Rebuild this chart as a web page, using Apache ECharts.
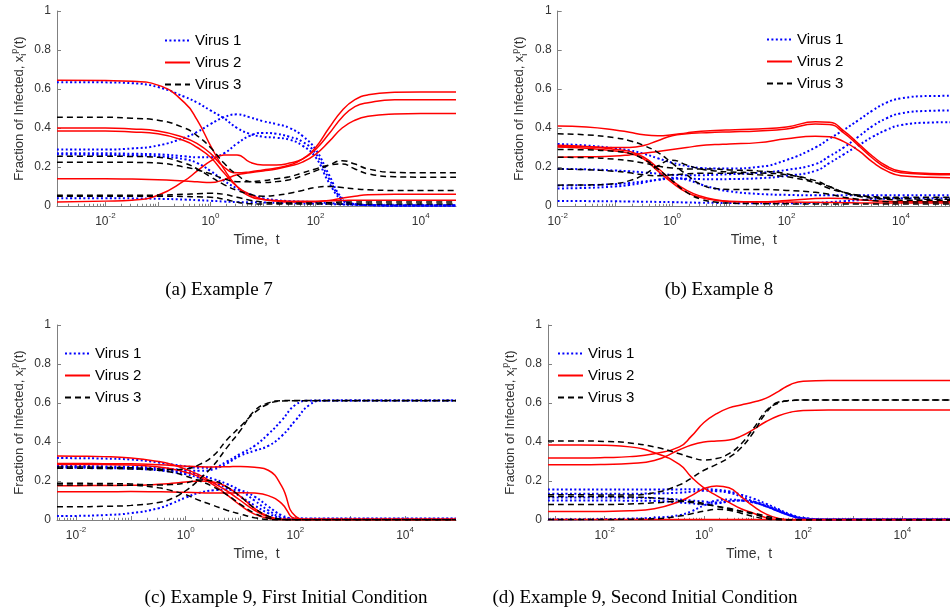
<!DOCTYPE html>
<html><head><meta charset="utf-8">
<script src="https://cdn.jsdelivr.net/npm/echarts@6/dist/echarts.min.js"></script>
<style>html,body{margin:0;padding:0;background:#fff}#c{width:950px;height:614px}</style>
</head><body><div id="c"></div>
<script>
// ---------- data ----------
const LEGEND_NAMES = ['Virus 1', 'Virus 2', 'Virus 3'];
const CAPTIONS = ['(a) Example 7', '(b) Example 8', '(c) Example 9, First Initial Condition', '(d) Example 9, Second Initial Condition'];
const X_LABEL_VALUES = [0.01, 1, 100, 10000];

// time samples (log-spaced readings)
const T_A = [0.0012, 0.01, 0.032, 0.1, 0.32, 0.56, 1, 1.8, 3.2, 5.6, 10, 18, 32, 56, 100, 180, 320, 560, 1000, 3200, 10000, 47000];
const T_B = [0.01, 0.032, 0.1, 0.18, 0.32, 0.56, 1, 1.8, 3.2, 5.6, 10, 32, 100, 320, 560, 1000, 1800, 3200, 5600, 10000, 32000, 72000];
const T_C = [0.0045, 0.01, 0.032, 0.1, 0.32, 0.56, 1, 1.8, 3.2, 5.6, 10, 18, 32, 56, 100, 180, 320, 1000, 10000, 85000];
const T_D = [0.00072, 0.0032, 0.01, 0.032, 0.1, 0.32, 0.56, 1, 1.8, 3.2, 5.6, 10, 18, 32, 56, 100, 320, 1000, 10000, 91000];

// (a) Example 7
const A_VIRUS1 = [
 [0.635,0.634,0.630,0.610,0.560,0.530,0.490,0.450,0.400,0.370,0.355,0.350,0.340,0.310,0.250,0.120,0.030,0.010,0.005,0.003,0.003,0.003],
 [0.290,0.290,0.295,0.310,0.350,0.380,0.420,0.455,0.470,0.455,0.435,0.420,0.400,0.360,0.290,0.160,0.040,0.010,0.005,0.003,0.003,0.003],
 [0.270,0.270,0.268,0.265,0.255,0.250,0.250,0.270,0.320,0.360,0.375,0.370,0.355,0.330,0.270,0.140,0.035,0.010,0.005,0.003,0.003,0.003],
 [0.265,0.262,0.260,0.255,0.240,0.220,0.180,0.130,0.090,0.060,0.040,0.030,0.025,0.022,0.020,0.015,0.010,0.007,0.005,0.003,0.003,0.003],
 [0.040,0.040,0.039,0.037,0.033,0.030,0.027,0.023,0.020,0.019,0.018,0.016,0.015,0.013,0.012,0.010,0.008,0.006,0.004,0.003,0.003,0.003]
];
const A_VIRUS2 = [
 [0.645,0.643,0.640,0.620,0.530,0.440,0.310,0.190,0.100,0.050,0.033,0.028,0.025,0.025,0.025,0.027,0.028,0.030,0.030,0.030,0.030,0.030],
 [0.400,0.400,0.395,0.385,0.350,0.320,0.270,0.200,0.170,0.175,0.185,0.195,0.210,0.240,0.300,0.400,0.490,0.545,0.570,0.583,0.585,0.585],
 [0.385,0.385,0.380,0.370,0.335,0.300,0.250,0.170,0.100,0.060,0.035,0.025,0.020,0.020,0.022,0.028,0.040,0.050,0.058,0.060,0.060,0.060],
 [0.140,0.140,0.138,0.135,0.128,0.124,0.120,0.135,0.160,0.170,0.180,0.190,0.205,0.225,0.265,0.330,0.400,0.440,0.460,0.472,0.475,0.475],
 [0.020,0.025,0.030,0.055,0.130,0.180,0.230,0.262,0.262,0.225,0.210,0.210,0.220,0.240,0.290,0.370,0.455,0.510,0.530,0.545,0.545,0.545]
];
const A_VIRUS3 = [
 [0.455,0.455,0.450,0.440,0.400,0.360,0.300,0.220,0.160,0.125,0.120,0.125,0.135,0.155,0.180,0.210,0.232,0.215,0.190,0.172,0.170,0.170],
 [0.255,0.255,0.254,0.250,0.220,0.190,0.150,0.110,0.080,0.060,0.050,0.055,0.065,0.080,0.095,0.100,0.095,0.088,0.083,0.080,0.080,0.080],
 [0.225,0.225,0.224,0.220,0.200,0.185,0.165,0.140,0.125,0.125,0.130,0.140,0.150,0.170,0.190,0.210,0.215,0.190,0.165,0.150,0.148,0.148],
 [0.055,0.055,0.055,0.056,0.060,0.063,0.065,0.060,0.045,0.030,0.020,0.016,0.015,0.015,0.015,0.017,0.020,0.020,0.020,0.020,0.020,0.020],
 [0.050,0.050,0.050,0.050,0.049,0.047,0.045,0.035,0.020,0.012,0.010,0.010,0.010,0.010,0.010,0.010,0.010,0.010,0.010,0.010,0.010,0.010]
];

// (b) Example 8
const B_VIRUS1 = [
 [0.318,0.310,0.296,0.285,0.268,0.245,0.222,0.205,0.195,0.192,0.192,0.200,0.236,0.300,0.345,0.390,0.440,0.490,0.530,0.552,0.564,0.565],
 [0.190,0.188,0.182,0.178,0.172,0.166,0.160,0.158,0.158,0.160,0.163,0.170,0.185,0.215,0.255,0.300,0.355,0.410,0.450,0.475,0.488,0.490],
 [0.105,0.107,0.112,0.118,0.126,0.134,0.140,0.140,0.138,0.137,0.138,0.142,0.155,0.180,0.220,0.265,0.310,0.355,0.390,0.415,0.428,0.430],
 [0.090,0.093,0.100,0.108,0.120,0.135,0.145,0.135,0.110,0.090,0.075,0.062,0.057,0.055,0.055,0.055,0.055,0.055,0.055,0.055,0.055,0.055],
 [0.026,0.025,0.024,0.023,0.022,0.021,0.020,0.018,0.017,0.016,0.015,0.014,0.014,0.016,0.020,0.025,0.030,0.035,0.038,0.040,0.040,0.040]
];
const B_VIRUS2 = [
 [0.410,0.405,0.390,0.378,0.365,0.360,0.365,0.375,0.383,0.387,0.390,0.395,0.405,0.432,0.430,0.385,0.320,0.255,0.205,0.178,0.167,0.166],
 [0.305,0.304,0.300,0.300,0.310,0.335,0.360,0.370,0.375,0.378,0.380,0.385,0.395,0.420,0.418,0.375,0.310,0.245,0.195,0.170,0.162,0.160],
 [0.312,0.305,0.290,0.280,0.250,0.195,0.130,0.080,0.050,0.033,0.025,0.022,0.028,0.038,0.040,0.038,0.032,0.027,0.024,0.022,0.022,0.022],
 [0.302,0.296,0.282,0.270,0.240,0.180,0.120,0.070,0.043,0.030,0.022,0.020,0.020,0.019,0.018,0.017,0.016,0.015,0.015,0.015,0.015,0.015],
 [0.250,0.252,0.256,0.262,0.270,0.280,0.290,0.300,0.310,0.315,0.318,0.325,0.345,0.358,0.355,0.330,0.285,0.225,0.180,0.155,0.147,0.145]
];
const B_VIRUS3 = [
 [0.370,0.365,0.350,0.335,0.310,0.275,0.220,0.160,0.110,0.090,0.085,0.085,0.080,0.070,0.060,0.045,0.035,0.028,0.022,0.020,0.020,0.020],
 [0.290,0.288,0.280,0.270,0.240,0.190,0.130,0.070,0.035,0.020,0.015,0.012,0.011,0.010,0.010,0.010,0.010,0.010,0.010,0.010,0.010,0.010],
 [0.250,0.248,0.240,0.232,0.220,0.205,0.195,0.190,0.190,0.190,0.185,0.180,0.165,0.120,0.090,0.070,0.055,0.048,0.045,0.045,0.045,0.045],
 [0.190,0.186,0.178,0.170,0.160,0.155,0.160,0.165,0.168,0.168,0.168,0.160,0.150,0.120,0.100,0.070,0.055,0.045,0.040,0.038,0.035,0.035],
 [0.107,0.108,0.115,0.130,0.160,0.205,0.235,0.210,0.190,0.180,0.175,0.170,0.160,0.130,0.100,0.070,0.050,0.040,0.035,0.030,0.030,0.030]
];

// (c) Example 9, first initial condition
const C_VIRUS1 = [
 [0.318,0.317,0.315,0.310,0.295,0.285,0.275,0.268,0.270,0.300,0.340,0.380,0.440,0.510,0.590,0.612,0.613,0.613,0.613,0.613],
 [0.277,0.277,0.275,0.273,0.268,0.262,0.255,0.252,0.260,0.290,0.330,0.355,0.380,0.430,0.510,0.590,0.612,0.613,0.613,0.613],
 [0.272,0.272,0.270,0.268,0.260,0.253,0.245,0.230,0.210,0.185,0.150,0.100,0.050,0.015,0.007,0.007,0.007,0.007,0.007,0.007],
 [0.020,0.021,0.025,0.035,0.060,0.085,0.115,0.140,0.152,0.155,0.150,0.120,0.070,0.025,0.008,0.007,0.007,0.007,0.007,0.007],
 [0.268,0.268,0.266,0.263,0.255,0.246,0.235,0.215,0.190,0.165,0.120,0.075,0.035,0.010,0.007,0.007,0.007,0.007,0.007,0.007]
];
const C_VIRUS2 = [
 [0.328,0.327,0.325,0.318,0.300,0.285,0.260,0.230,0.190,0.150,0.100,0.050,0.015,0.003,0.002,0.002,0.002,0.002,0.002,0.002],
 [0.290,0.290,0.289,0.288,0.283,0.280,0.276,0.273,0.272,0.273,0.275,0.270,0.255,0.175,0.020,0.002,0.002,0.002,0.002,0.002],
 [0.285,0.285,0.284,0.282,0.272,0.262,0.245,0.220,0.180,0.130,0.075,0.030,0.008,0.002,0.002,0.002,0.002,0.002,0.002,0.002],
 [0.176,0.176,0.177,0.178,0.183,0.188,0.195,0.200,0.195,0.170,0.120,0.060,0.020,0.004,0.002,0.002,0.002,0.002,0.002,0.002],
 [0.145,0.145,0.145,0.146,0.145,0.144,0.142,0.140,0.138,0.138,0.140,0.138,0.125,0.085,0.008,0.002,0.002,0.002,0.002,0.002]
];
const C_VIRUS3 = [
 [0.272,0.272,0.270,0.268,0.262,0.258,0.262,0.285,0.330,0.410,0.480,0.550,0.595,0.610,0.612,0.612,0.612,0.612,0.612,0.612],
 [0.265,0.265,0.264,0.262,0.255,0.245,0.225,0.200,0.170,0.130,0.080,0.035,0.010,0.002,0.001,0.001,0.001,0.001,0.001,0.001],
 [0.188,0.188,0.187,0.185,0.180,0.182,0.190,0.205,0.200,0.170,0.120,0.060,0.020,0.005,0.001,0.001,0.001,0.001,0.001,0.001],
 [0.180,0.180,0.179,0.178,0.165,0.150,0.130,0.100,0.075,0.050,0.030,0.012,0.003,0.001,0.001,0.001,0.001,0.001,0.001,0.001],
 [0.068,0.068,0.070,0.075,0.090,0.110,0.150,0.210,0.280,0.370,0.460,0.560,0.600,0.612,0.613,0.613,0.613,0.613,0.613,0.613]
];

// (d) Example 9, second initial condition
const D_VIRUS1 = [
 [0.157,0.157,0.157,0.157,0.157,0.157,0.158,0.158,0.155,0.147,0.130,0.110,0.083,0.055,0.028,0.012,0.003,0.003,0.003,0.003],
 [0.135,0.135,0.135,0.135,0.136,0.140,0.145,0.150,0.148,0.140,0.120,0.095,0.070,0.045,0.022,0.008,0.003,0.003,0.003,0.003],
 [0.115,0.115,0.115,0.114,0.112,0.105,0.100,0.095,0.090,0.095,0.100,0.090,0.070,0.045,0.022,0.008,0.003,0.003,0.003,0.003],
 [0.100,0.100,0.100,0.099,0.098,0.090,0.085,0.080,0.085,0.095,0.100,0.095,0.075,0.050,0.025,0.008,0.003,0.003,0.003,0.003],
 [0.004,0.004,0.005,0.007,0.012,0.025,0.045,0.075,0.100,0.105,0.100,0.090,0.070,0.045,0.022,0.008,0.003,0.003,0.003,0.003]
];
const D_VIRUS2 = [
 [0.385,0.385,0.383,0.375,0.345,0.285,0.220,0.165,0.125,0.090,0.058,0.035,0.012,0.002,0.001,0.001,0.001,0.001,0.001,0.001],
 [0.318,0.318,0.320,0.325,0.340,0.375,0.430,0.500,0.545,0.575,0.590,0.605,0.625,0.660,0.695,0.712,0.715,0.715,0.715,0.715],
 [0.283,0.283,0.285,0.290,0.305,0.360,0.385,0.400,0.405,0.410,0.430,0.465,0.505,0.535,0.553,0.562,0.564,0.564,0.564,0.564],
 [0.043,0.043,0.044,0.047,0.058,0.095,0.125,0.160,0.175,0.165,0.120,0.070,0.030,0.008,0.001,0.001,0.001,0.001,0.001,0.001],
 [0.002,0.002,0.002,0.002,0.002,0.002,0.002,0.002,0.002,0.002,0.002,0.002,0.002,0.002,0.002,0.002,0.002,0.002,0.002,0.002]
];
const D_VIRUS3 = [
 [0.405,0.405,0.403,0.395,0.375,0.340,0.320,0.308,0.315,0.340,0.390,0.470,0.560,0.600,0.612,0.615,0.615,0.615,0.615,0.615],
 [0.130,0.130,0.128,0.128,0.140,0.180,0.215,0.255,0.285,0.320,0.370,0.450,0.550,0.605,0.613,0.615,0.615,0.615,0.615,0.615],
 [0.120,0.120,0.120,0.118,0.113,0.100,0.090,0.080,0.070,0.060,0.045,0.030,0.012,0.003,0.001,0.001,0.001,0.001,0.001,0.001],
 [0.080,0.080,0.080,0.082,0.088,0.095,0.095,0.085,0.070,0.055,0.045,0.035,0.020,0.006,0.001,0.001,0.001,0.001,0.001,0.001],
 [0.003,0.003,0.003,0.004,0.006,0.020,0.032,0.045,0.055,0.050,0.035,0.018,0.006,0.001,0.001,0.001,0.001,0.001,0.001,0.001]
];

// ---------- layout / style ----------
const PANELS = [
  {t: T_A, v: [A_VIRUS1, A_VIRUS2, A_VIRUS3], xmin: 0.0012, xmax: 47000, grid: {left: 57, top: 11, width: 399, height: 195}, legend: {left: 164, top: 33}, cap: [219, 290]},
  {t: T_B, v: [B_VIRUS1, B_VIRUS2, B_VIRUS3], xmin: 0.01, xmax: 72000, grid: {left: 557.7, top: 11, width: 392.3, height: 195}, legend: {left: 766, top: 32}, cap: [719, 290]},
  {t: T_C, v: [C_VIRUS1, C_VIRUS2, C_VIRUS3], xmin: 0.0045, xmax: 85000, grid: {left: 57, top: 325, width: 399, height: 195}, legend: {left: 64, top: 346}, cap: [286, 598]},
  {t: T_D, v: [D_VIRUS1, D_VIRUS2, D_VIRUS3], xmin: 0.00072, xmax: 91000, grid: {left: 548, top: 325, width: 402, height: 195}, legend: {left: 557, top: 346}, cap: [645, 598]}
];
const LINE_STYLES = [
  {color: '#0000ff', type: [2, 2.4], width: 2},
  {color: '#ff0000', type: 'solid', width: 1.5},
  {color: '#000000', type: [6, 4], width: 1.5}
];
const AXIS_COLOR = '#808080';
const LABEL_COLOR = '#333333';
const FONT = '"Liberation Sans", Arial, sans-serif';

const majorTicks = [], minorTicks = [];
for (let k = -4; k <= 5; k++) {
  majorTicks.push(Math.pow(10, k));
  for (let m = 2; m <= 9; m++) minorTicks.push(m * Math.pow(10, k));
}

const grids = [], xAxes = [], yAxes = [], series = [], legends = [], graphics = [];
PANELS.forEach((p, gi) => {
  grids.push(Object.assign({}, p.grid, {containLabel: false}));
  xAxes.push({
    type: 'log', logBase: 10, gridIndex: gi, min: p.xmin, max: p.xmax, position: 'bottom',
    axisLine: {show: true, onZero: false, lineStyle: {color: AXIS_COLOR, width: 1}},
    axisTick: {show: true, inside: true, length: 4, customValues: majorTicks, lineStyle: {color: AXIS_COLOR}},
    axisLabel: {
      show: true, customValues: X_LABEL_VALUES, margin: 6, color: LABEL_COLOR, fontFamily: FONT,
      formatter: v => '{b|10}{s|' + Math.round(Math.log10(v)) + '}',
      rich: {
        b: {fontSize: 12, fontFamily: FONT, color: LABEL_COLOR, lineHeight: 16, verticalAlign: 'bottom'},
        s: {fontSize: 8, fontFamily: FONT, color: LABEL_COLOR, lineHeight: 9, verticalAlign: 'top'}
      }
    },
    splitLine: {show: false}, minorTick: {show: false},
    name: 'Time,  t', nameLocation: 'middle', nameGap: 27,
    nameTextStyle: {fontSize: 14, fontFamily: FONT, color: LABEL_COLOR}
  });
  xAxes.push({
    type: 'log', logBase: 10, gridIndex: gi, min: p.xmin, max: p.xmax, position: 'bottom', offset: 0,
    axisLine: {show: false, onZero: false},
    axisTick: {show: true, inside: true, length: 2.2, customValues: minorTicks, lineStyle: {color: AXIS_COLOR}},
    axisLabel: {show: false}, splitLine: {show: false}
  });
  yAxes.push({
    type: 'value', gridIndex: gi, min: 0, max: 1, interval: 0.2,
    axisLine: {show: true, onZero: false, lineStyle: {color: AXIS_COLOR, width: 1}},
    axisTick: {show: true, inside: true, length: 4, lineStyle: {color: AXIS_COLOR}},
    axisLabel: {fontSize: 12, fontFamily: FONT, color: LABEL_COLOR, margin: 6},
    splitLine: {show: false},
    name: 'Fraction of Infected, x{i|i}{p|p}(t)', nameLocation: 'middle', nameGap: 29,
    nameTextStyle: {
      fontSize: 13, fontFamily: FONT, color: LABEL_COLOR, lineHeight: 18,
      rich: {
        i: {fontSize: 9, fontFamily: FONT, color: LABEL_COLOR, lineHeight: 9, verticalAlign: 'bottom'},
        p: {fontSize: 9, fontFamily: FONT, color: LABEL_COLOR, lineHeight: 9, verticalAlign: 'top'}
      }
    }
  });
  p.v.forEach((lines, vi) => {
    lines.forEach(vals => {
      series.push({
        type: 'line', name: LEGEND_NAMES[vi], xAxisIndex: gi * 2, yAxisIndex: gi,
        data: p.t.map((t, i) => [t, vals[i]]),
        symbol: 'none', showSymbol: false, smooth: 0.5,
        lineStyle: {color: LINE_STYLES[vi].color, type: LINE_STYLES[vi].type, width: LINE_STYLES[vi].width},
        itemStyle: {color: LINE_STYLES[vi].color},
        emphasis: {disabled: true}, animation: false, z: 2 + vi
      });
    });
  });
  legends.push({
    orient: 'vertical', left: p.legend.left, top: p.legend.top, padding: 0,
    itemWidth: 25, itemHeight: 14, itemGap: 7, selectedMode: false,
    data: LEGEND_NAMES,
    itemStyle: {opacity: 0},
    textStyle: {fontSize: 15, fontFamily: FONT, color: '#000', lineHeight: 14}
  });
  graphics.push({
    type: 'text', x: p.cap[0], y: p.cap[1],
    style: {text: CAPTIONS[gi], fontSize: 19, fontFamily: '"Liberation Serif", "DejaVu Serif", serif', fill: '#000',
            align: 'center', verticalAlign: 'middle', textAlign: 'center', textVerticalAlign: 'middle'}
  });
});

const chart = echarts.init(document.getElementById('c'), null, {renderer: 'canvas'});
chart.setOption({
  animation: false, backgroundColor: '#fff',
  grid: grids, xAxis: xAxes, yAxis: yAxes, series: series, legend: legends, graphic: graphics
});
</script></body></html>
